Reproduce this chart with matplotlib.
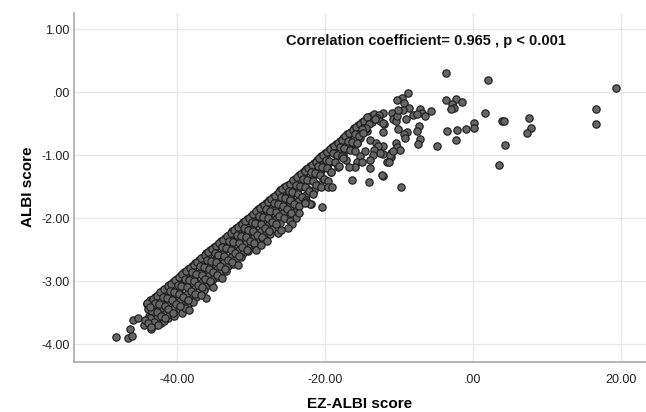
import matplotlib
matplotlib.use("Agg")
import matplotlib.pyplot as plt

plt.rcParams['font.family'] = ['Liberation Sans', 'DejaVu Sans']

# dense band (EZ-ALBI, ALBI)
band_x = [
    -44.0, -43.7, -43.8, -43.3, -43.2, -43.6,
    -43.0, -42.6, -42.8, -42.4, -42.7, -42.2, -42.9,
    -42.0, -41.6, -41.8, -41.4, -41.9, -41.5, -41.2, -41.7,
    -41.0, -40.5, -40.8, -40.3, -40.7, -40.2, -40.6, -40.9, -40.4,
    -40.0, -39.5, -39.8, -39.3, -39.7, -39.2, -39.6, -39.1, -39.6, -39.3,
    -39.0, -38.5, -38.8, -38.3, -38.7, -38.2, -38.6, -38.1, -38.5, -38.9,
    -38.0, -37.5, -37.8, -37.3, -37.7, -37.2, -37.6, -37.1, -37.4, -37.8,
    -37.0, -36.5, -36.8, -36.3, -36.7, -36.2, -36.6, -36.1, -36.4, -36.0,
    -36.0, -35.5, -35.8, -35.3, -35.7, -35.2, -35.6, -35.1, -35.4, -35.1,
    -35.0, -34.5, -34.8, -34.3, -34.7, -34.2, -34.6, -34.1, -34.5,
    -34.0, -33.5, -33.8, -33.3, -33.7, -33.2, -33.6, -33.1, -33.4,
    -33.0, -32.5, -32.8, -32.3, -32.7, -32.2, -32.6, -32.1, -32.4,
    -32.0, -31.5, -31.8, -31.3, -31.7, -31.2, -31.6, -31.1, -31.4,
    -31.0, -30.5, -30.8, -30.3, -30.7, -30.2, -30.6, -30.1, -30.4,
    -30.0, -29.5, -29.8, -29.3, -29.7, -29.2, -29.6, -29.1, -29.4,
    -29.0, -28.5, -28.8, -28.3, -28.7, -28.2, -28.6, -28.1, -28.4,
    -28.0, -27.5, -27.8, -27.3, -27.7, -27.2, -27.6, -27.1, -27.4,
    -27.0, -26.5, -26.8, -26.3, -26.7, -26.2, -26.6, -26.1,
    -26.0, -25.5, -25.8, -25.3, -25.7, -25.2, -25.6, -25.1,
    -25.0, -24.5, -24.8, -24.3, -24.7, -24.2, -24.6, -24.1,
    -24.0, -23.5, -23.8, -23.3, -23.7, -23.2, -23.6,
    -23.0, -22.5, -22.8, -22.3, -22.7, -22.2, -22.6,
    -22.0, -21.5, -21.8, -21.3, -21.7, -21.2, -21.5,
    -21.0, -20.5, -20.8, -20.3, -20.7, -20.2,
    -20.0, -19.5, -19.8, -19.3, -19.7, -19.2,
    -19.0, -18.5, -18.8, -18.3, -18.6, -18.2,
    -18.0, -17.5, -17.8, -17.3, -17.6,
    -17.0, -16.5, -16.8, -16.3, -16.6,
    -16.0, -15.5, -15.8, -15.3, -15.6,
    -15.0, -14.5, -14.8, -14.3,
    -13.8, -13.4, -13.6,
    # in-between points of the same band
    -43.75, -43.25, -43.9, -43.4, -43.65, -43.15, -43.55,
    -42.75, -42.25, -42.9, -42.4, -42.65, -42.15, -42.55,
    -41.75, -41.25, -41.9, -41.4, -41.65, -41.15, -41.55,
    -40.75, -40.25, -40.9, -40.4, -40.65, -40.15, -40.55,
    -39.75, -39.25, -39.9, -39.4, -39.65, -39.15, -39.55,
    -38.75, -38.25, -38.9, -38.4, -38.65, -38.15, -38.55,
    -37.75, -37.25, -37.9, -37.4, -37.65, -37.15, -37.55,
    -36.75, -36.25, -36.9, -36.4, -36.65, -36.15, -36.55,
    -35.75, -35.25, -35.9, -35.4, -35.65, -35.15, -35.55,
    -34.75, -34.25, -34.9, -34.4, -34.65, -34.15, -34.55,
    -33.75, -33.25, -33.9, -33.4, -33.65, -33.15, -33.55,
    -32.75, -32.25, -32.9, -32.4, -32.65, -32.15, -32.55,
    -31.75, -31.25, -31.9, -31.4, -31.65, -31.15, -31.55,
    -30.75, -30.25, -30.9, -30.4, -30.65, -30.15, -30.55,
    -29.75, -29.25, -29.9, -29.4, -29.65, -29.15, -29.55,
    -28.75, -28.25, -28.9, -28.4, -28.65, -28.15, -28.55,
    -27.75, -27.25, -27.9, -27.4, -27.65, -27.15, -27.55,
    -26.75, -26.25, -26.9, -26.4, -26.65, -26.15, -26.55,
    -25.75, -25.25, -25.9, -25.4, -25.65, -25.15, -25.55,
    -24.75, -24.25, -24.9, -24.4, -24.65, -24.15, -24.55,
    -23.75, -23.25, -23.9, -23.4, -23.65, -23.15, -23.55,
    -22.75, -22.25, -22.9, -22.4, -22.65, -22.15, -22.55,
    -21.75, -21.25, -21.9, -21.4, -21.65, -21.15, -21.55,
    -20.75, -20.25, -20.9, -20.4, -20.65, -20.15, -20.55,
    -19.75, -19.25, -19.9, -19.4, -19.65, -19.15, -19.55,
    -18.75, -18.25, -18.9, -18.4, -18.65, -18.15,
    -17.75, -17.25, -17.9, -17.4, -17.65, -17.15,
    -16.75, -16.25, -16.9, -16.4, -16.65,
    -15.75, -15.25, -15.9, -15.4, -15.65,
    -14.75, -14.25, -14.9, -14.4,
    # lower edge stragglers
    -38.3, -36.8, -33.9, -31.8, -29.3, -28.6, -27.8, -26.4, -23.9, -21.9,
]
band_y = [
    -3.36, -3.45, -3.55, -3.50, -3.62, -3.30,
    -3.25, -3.22, -3.38, -3.46, -3.58, -3.66, -3.70,
    -3.15, -3.12, -3.26, -3.33, -3.42, -3.50, -3.58, -3.64,
    -3.06, -3.01, -3.14, -3.20, -3.28, -3.36, -3.45, -3.52, -3.56,
    -2.96, -2.91, -3.03, -3.08, -3.17, -3.24, -3.32, -3.38, -3.46, -3.50,
    -2.86, -2.81, -2.94, -2.99, -3.07, -3.13, -3.21, -3.28, -3.36, -3.42,
    -2.76, -2.71, -2.84, -2.89, -2.97, -3.04, -3.11, -3.18, -3.25, -3.33,
    -2.66, -2.61, -2.73, -2.79, -2.87, -2.93, -3.01, -3.07, -3.14, -3.27,
    -2.56, -2.51, -2.63, -2.68, -2.77, -2.83, -2.90, -2.97, -3.03, -3.09,
    -2.46, -2.41, -2.53, -2.58, -2.67, -2.73, -2.80, -2.86, -2.93,
    -2.36, -2.31, -2.43, -2.48, -2.57, -2.63, -2.70, -2.76, -2.84,
    -2.26, -2.21, -2.33, -2.38, -2.47, -2.52, -2.60, -2.66, -2.73,
    -2.16, -2.11, -2.23, -2.29, -2.37, -2.43, -2.50, -2.56, -2.62,
    -2.06, -2.01, -2.13, -2.18, -2.27, -2.33, -2.40, -2.46, -2.52,
    -1.96, -1.91, -2.03, -2.08, -2.17, -2.23, -2.30, -2.36, -2.44,
    -1.86, -1.81, -1.93, -1.98, -2.07, -2.13, -2.20, -2.27, -2.33,
    -1.76, -1.71, -1.83, -1.88, -1.97, -2.03, -2.10, -2.17, -2.25,
    -1.66, -1.61, -1.73, -1.79, -1.87, -1.93, -2.01, -2.08,
    -1.56, -1.51, -1.63, -1.69, -1.77, -1.84, -1.92, -2.00,
    -1.47, -1.42, -1.54, -1.60, -1.68, -1.75, -1.83, -1.90,
    -1.37, -1.32, -1.44, -1.50, -1.58, -1.66, -1.73,
    -1.27, -1.22, -1.34, -1.40, -1.49, -1.56, -1.63,
    -1.17, -1.12, -1.24, -1.30, -1.39, -1.46, -1.55,
    -1.07, -1.02, -1.14, -1.20, -1.29, -1.37,
    -0.97, -0.92, -1.04, -1.10, -1.19, -1.27,
    -0.87, -0.82, -0.94, -1.00, -1.10, -1.18,
    -0.77, -0.72, -0.84, -0.91, -1.00,
    -0.67, -0.63, -0.75, -0.82, -0.90,
    -0.57, -0.52, -0.65, -0.72, -0.80,
    -0.47, -0.43, -0.55, -0.62,
    -0.38, -0.35, -0.47,
    # in-between points of the same band
    -3.33, -3.28, -3.45, -3.47, -3.59, -3.65, -3.76,
    -3.23, -3.18, -3.35, -3.37, -3.49, -3.55, -3.69,
    -3.13, -3.08, -3.25, -3.27, -3.39, -3.45, -3.59,
    -3.04, -2.99, -3.16, -3.18, -3.30, -3.36, -3.50,
    -2.94, -2.89, -3.06, -3.08, -3.20, -3.26, -3.40,
    -2.84, -2.79, -2.96, -2.98, -3.10, -3.16, -3.30,
    -2.74, -2.69, -2.86, -2.88, -3.00, -3.06, -3.20,
    -2.64, -2.59, -2.76, -2.78, -2.90, -2.96, -3.10,
    -2.54, -2.49, -2.66, -2.68, -2.80, -2.86, -3.00,
    -2.44, -2.39, -2.56, -2.58, -2.70, -2.76, -2.90,
    -2.34, -2.29, -2.46, -2.48, -2.60, -2.66, -2.80,
    -2.24, -2.19, -2.36, -2.38, -2.50, -2.56, -2.70,
    -2.14, -2.09, -2.26, -2.28, -2.40, -2.46, -2.60,
    -2.04, -1.99, -2.16, -2.18, -2.30, -2.36, -2.50,
    -1.94, -1.89, -2.06, -2.08, -2.20, -2.26, -2.40,
    -1.84, -1.79, -1.96, -1.98, -2.10, -2.16, -2.30,
    -1.74, -1.69, -1.86, -1.88, -2.00, -2.06, -2.20,
    -1.64, -1.59, -1.76, -1.78, -1.90, -1.96, -2.10,
    -1.54, -1.49, -1.66, -1.68, -1.80, -1.86, -2.00,
    -1.45, -1.40, -1.57, -1.59, -1.71, -1.77, -1.91,
    -1.35, -1.30, -1.47, -1.49, -1.61, -1.67, -1.81,
    -1.25, -1.20, -1.37, -1.39, -1.51, -1.57, -1.71,
    -1.15, -1.10, -1.27, -1.29, -1.41, -1.47, -1.61,
    -1.05, -1.00, -1.17, -1.19, -1.31, -1.37, -1.51,
    -0.95, -0.90, -1.07, -1.09, -1.21, -1.27, -1.41,
    -0.85, -0.80, -0.97, -0.99, -1.11, -1.17,
    -0.75, -0.70, -0.87, -0.89, -1.01, -1.07,
    -0.65, -0.60, -0.77, -0.79, -0.91,
    -0.55, -0.50, -0.67, -0.69, -0.81,
    -0.45, -0.40, -0.57, -0.59,
    # lower edge stragglers
    -3.46, -3.22, -2.95, -2.74, -2.50, -2.42, -2.36, -2.24, -1.99, -1.78,
]

# scattered points away from the band
spread_x = [
    -3.6, 2.0, 19.4, 16.7, 16.6, 7.6, 7.8, 7.3, 4.3, 3.9, 4.2, 3.5, 1.6, 0.2, 0.2,
    -0.9, -2.1, -2.3, -3.5, -4.9, -3.6, -2.3, -2.8, -2.6, -2.9, -1.5,
    -8.7, -9.6, -10.3, -9.3, -8.6, -9.5, -10.9, -8.1, -7.2, -6.9, -6.4, -5.7, -7.5,
    -9.0, -7.3, -7.6, -7.1, -7.4, -8.9, -9.3, -9.2, -10.1, -10.4, -10.2, -9.9,
    -11.1, -11.0, -11.6, -12.2, -9.7, -12.1, -12.1, -12.2, -12.0, -12.2,
    -10.8, -10.4, -10.2, -10.1,
    -12.7, -12.9, -12.6, -13.2, -12.2, -14.1, -14.4, -15.0, -14.8, -13.9, -13.1,
    -12.8, -13.4, -12.6, -13.5, -13.9, -14.6, -15.3, -15.9, -15.7, -15.0,
    -11.2, -11.4, -10.8, -13.9, -12.3, -16.3, -14.1, -15.9, -16.8, -17.5,
    -19.6, -19.0, -20.4, -23.5, -22.5, -22.0, -22.7, -24.7, -24.5, -25.0, -25.9,
    -48.2, -46.6, -46.4, -46.0, -45.9, -45.2, -44.5, -44.3, -43.9, -43.5, -44.1, -43.6,
]
spread_y = [
    0.31, 0.19, 0.07, -0.26, -0.50, -0.41, -0.57, -0.65, -0.83, -0.45, -0.45, -1.15, -0.33, -0.49, -0.57,
    -0.58, -0.60, -0.75, -0.61, -0.85, -0.12, -0.10, -0.19, -0.25, -0.26, -0.16,
    -0.01, -0.09, -0.13, -0.17, -0.25, -0.28, -0.33, -0.36, -0.26, -0.33, -0.38, -0.30, -0.34,
    -0.43, -0.54, -0.61, -0.74, -0.82, -0.63, -0.66, -0.72, -0.59, -0.80, -0.87, -0.92,
    -0.96, -1.03, -1.10, -1.33, -1.51, -0.85, -0.98, -0.33, -0.50, -0.63,
    -0.42, -0.45, -0.38, -0.28,
    -0.36, -0.41, -0.46, -0.43, -0.49, -0.51, -0.57, -0.59, -0.65, -0.75, -0.81,
    -0.86, -0.91, -0.97, -0.99, -1.07, -0.94, -1.02, -0.94, -1.10, -1.10,
    -0.99, -1.10, -0.94, -1.20, -1.31, -1.39, -1.43, -1.18, -1.19, -1.05,
    -1.50, -1.51, -1.82, -1.92, -1.74, -1.78, -1.76, -2.04, -2.10, -2.16, -2.19,
    -3.89, -3.90, -3.76, -3.87, -3.62, -3.59, -3.70, -3.62, -3.67, -3.73, -3.35, -3.41,
]

x_ticks = [-40, -20, 0, 20]
x_labels = ["-40.00", "-20.00", ".00", "20.00"]
y_ticks = [1, 0, -1, -2, -3, -4]
y_labels = ["1.00", ".00", "-1.00", "-2.00", "-3.00", "-4.00"]

fig = plt.figure(figsize=(6.46, 4.12), dpi=100)
ax = fig.add_axes([0.1146, 0.1221, 0.8854, 0.847])

pts_x = band_x + spread_x
pts_y = band_y + spread_y
ax.scatter(pts_x, pts_y, s=28, facecolor='#666666', edgecolor='#1e1e1e',
           linewidth=0.85, zorder=3)

ax.set_xlim(-53.9, 23.4)
ax.set_ylim(-4.28, 1.264)
ax.set_xticks(x_ticks)
ax.set_xticklabels(x_labels)
ax.set_yticks(y_ticks)
ax.set_yticklabels(y_labels)
ax.tick_params(length=0, labelsize=9, colors='#222222')
ax.tick_params(axis='x', pad=9)
ax.tick_params(axis='y', pad=3)

ax.grid(True, color='#e8e8e8', linewidth=1)
ax.set_axisbelow(True)
for side in ['top', 'right']:
    ax.spines[side].set_visible(False)
for side in ['left', 'bottom']:
    ax.spines[side].set_color('#a8a8a8')
    ax.spines[side].set_linewidth(1.2)

ax.set_xlabel("EZ-ALBI score", fontsize=11, fontweight='bold', labelpad=8)
ax.set_ylabel("ALBI score", fontsize=11, fontweight='bold', labelpad=5)

ax.text(-25.2, 0.81, "Correlation coefficient= 0.965 , p < 0.001",
        fontsize=10.5, fontweight='bold', ha='left', va='center', color='#111111')

fig.savefig("out.png", dpi=100)
